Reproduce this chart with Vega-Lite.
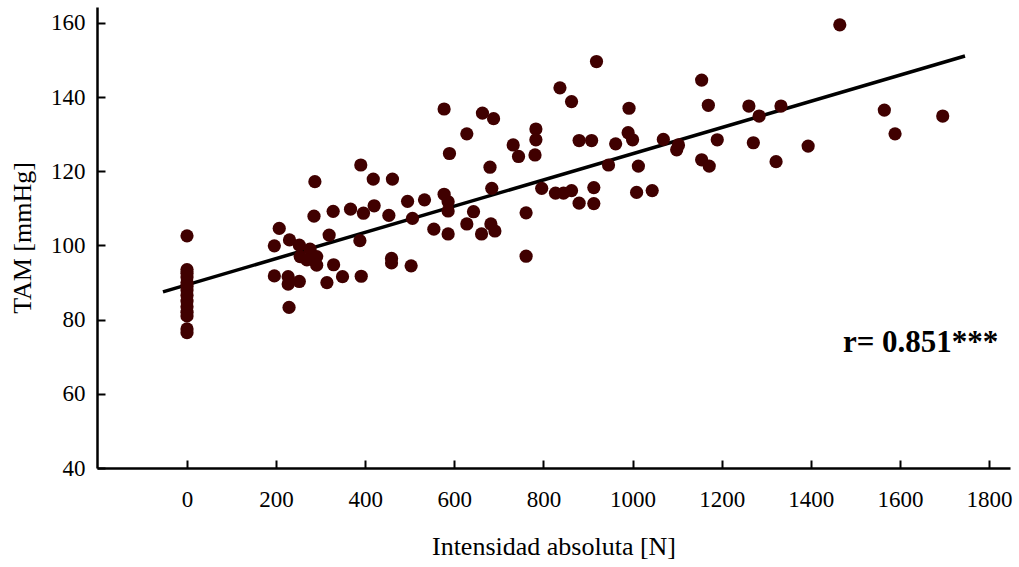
{
  "$schema": "https://vega.github.io/schema/vega-lite/v6.json",
  "width": 913,
  "height": 461,
  "autosize": "none",
  "padding": {"left": 97, "top": 7, "right": 9, "bottom": 99},
  "background": "white",
  "config": {
    "view": {"stroke": null},
    "font": "Liberation Serif",
    "axis": {
      "grid": false,
      "domainColor": "black",
      "domainWidth": 2.5,
      "tickColor": "black",
      "tickWidth": 2,
      "labelColor": "black",
      "titleColor": "black",
      "labelFont": "Liberation Serif",
      "titleFont": "Liberation Serif",
      "labelFontSize": 23,
      "titleFontSize": 26,
      "titleFontWeight": "normal"
    }
  },
  "datasets": {
    "points": [
      {"x": 0, "y": 102.6}, {"x": 0, "y": 93.5}, {"x": 0, "y": 92.5}, {"x": 0, "y": 91.5}, {"x": 0, "y": 90}, {"x": 0, "y": 89}, {"x": 0, "y": 88}, {"x": 0, "y": 86.5}, {"x": 0, "y": 85}, {"x": 0, "y": 83.5}, {"x": 0, "y": 82}, {"x": 0, "y": 81}, {"x": 0, "y": 77.5}, {"x": 0, "y": 76.5},
      {"x": 196, "y": 99.9}, {"x": 207, "y": 104.6}, {"x": 230, "y": 101.5}, {"x": 252, "y": 100.1}, {"x": 254, "y": 97.0}, {"x": 276, "y": 99.0}, {"x": 269, "y": 96.1}, {"x": 291, "y": 97.0}, {"x": 291, "y": 94.7}, {"x": 287, "y": 117.2}, {"x": 285, "y": 107.9}, {"x": 328, "y": 109.2}, {"x": 319, "y": 102.8}, {"x": 329, "y": 94.8}, {"x": 196, "y": 91.8}, {"x": 227, "y": 91.6}, {"x": 227, "y": 89.6}, {"x": 252, "y": 90.3}, {"x": 314, "y": 90.0}, {"x": 229, "y": 83.3},
      {"x": 390, "y": 121.7}, {"x": 418, "y": 117.9}, {"x": 461, "y": 117.9}, {"x": 367, "y": 109.8}, {"x": 396, "y": 108.7}, {"x": 420, "y": 110.7}, {"x": 453, "y": 108.1}, {"x": 495, "y": 111.9}, {"x": 506, "y": 107.3}, {"x": 388, "y": 101.3}, {"x": 459, "y": 96.5}, {"x": 459, "y": 95.3}, {"x": 503, "y": 94.5}, {"x": 349, "y": 91.6}, {"x": 391, "y": 91.7}, {"x": 533, "y": 112.3},
      {"x": 577, "y": 113.8}, {"x": 586, "y": 111.8}, {"x": 586, "y": 109.3}, {"x": 554, "y": 104.4}, {"x": 586, "y": 103.1}, {"x": 643, "y": 109.1}, {"x": 628, "y": 105.8}, {"x": 682, "y": 105.8}, {"x": 691, "y": 103.9}, {"x": 661, "y": 103.1}, {"x": 684, "y": 115.4}, {"x": 680, "y": 121.1}, {"x": 589, "y": 124.8}, {"x": 628, "y": 130.1}, {"x": 577, "y": 136.8}, {"x": 663, "y": 135.7}, {"x": 688, "y": 134.2},
      {"x": 732, "y": 127.1}, {"x": 744, "y": 124.0}, {"x": 783, "y": 131.4}, {"x": 783, "y": 128.5}, {"x": 781, "y": 124.4}, {"x": 761, "y": 108.8}, {"x": 761, "y": 97.1}, {"x": 796, "y": 115.4}, {"x": 827, "y": 114.1}, {"x": 845, "y": 114.1}, {"x": 863, "y": 114.8}, {"x": 880, "y": 111.4}, {"x": 880, "y": 128.3}, {"x": 837, "y": 142.5}, {"x": 863, "y": 138.8}, {"x": 919, "y": 149.6},
      {"x": 908, "y": 128.3}, {"x": 913, "y": 115.6}, {"x": 913, "y": 111.3}, {"x": 946, "y": 121.7}, {"x": 962, "y": 127.4}, {"x": 990, "y": 130.4}, {"x": 1000, "y": 128.5}, {"x": 992, "y": 137.0}, {"x": 1013, "y": 121.4}, {"x": 1009, "y": 114.3}, {"x": 1044, "y": 114.8}, {"x": 1069, "y": 128.6}, {"x": 1103, "y": 127.1}, {"x": 1099, "y": 125.8},
      {"x": 1155, "y": 144.6}, {"x": 1170, "y": 137.8}, {"x": 1155, "y": 123.1}, {"x": 1172, "y": 121.4}, {"x": 1190, "y": 128.5}, {"x": 1261, "y": 137.6}, {"x": 1284, "y": 134.9}, {"x": 1271, "y": 127.7}, {"x": 1333, "y": 137.6}, {"x": 1322, "y": 122.6}, {"x": 1394, "y": 126.8}, {"x": 1465, "y": 159.5}, {"x": 1565, "y": 136.5}, {"x": 1589, "y": 130.1}, {"x": 1696, "y": 134.9}
    ],
    "fit": [
      {"x": -54, "y": 87.5},
      {"x": 1746, "y": 151.1}
    ],
    "label": [
      {"x": 1472, "y": 71.3, "text": "r= 0.851***"}
    ]
  },
  "encoding": {
    "x": {
      "field": "x",
      "type": "quantitative",
      "scale": {"domain": [-202, 1847], "nice": false, "zero": false},
      "axis": {
        "title": "Intensidad absoluta [N]",
        "values": [0, 200, 400, 600, 800, 1000, 1200, 1400, 1600, 1800],
        "format": "d",
        "tickSize": -8,
        "labelPadding": 28,
        "titlePadding": 22,
        "labelFlush": false,
        "labelOverlap": false
      }
    },
    "y": {
      "field": "y",
      "type": "quantitative",
      "scale": {"domain": [40, 164.3], "nice": false, "zero": false},
      "axis": {
        "title": "TAM [mmHg]",
        "values": [40, 60, 80, 100, 120, 140, 160],
        "format": "d",
        "tickSize": -8,
        "labelPadding": 20,
        "titlePadding": 15,
        "labelFlush": false,
        "labelOverlap": false
      }
    }
  },
  "layer": [
    {
      "data": {"name": "fit"},
      "mark": {"type": "line", "color": "black", "strokeWidth": 3.5}
    },
    {
      "data": {"name": "points"},
      "mark": {"type": "circle", "color": "#400000", "opacity": 1, "size": 175}
    },
    {
      "data": {"name": "label"},
      "mark": {"type": "text", "align": "left", "baseline": "alphabetic", "font": "Liberation Serif", "fontWeight": "bold", "fontSize": 31, "color": "black"},
      "encoding": {"text": {"field": "text"}}
    }
  ]
}
